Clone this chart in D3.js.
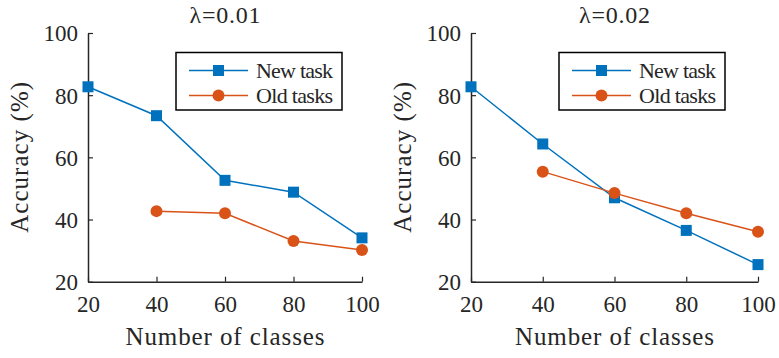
<!DOCTYPE html>
<html>
<head>
<script src="https://d3js.org/d3.v7.min.js"></script>
<style>
  body { margin: 0; background: #fff; }
</style>
</head>
<body>
<script>
var classes = [20, 40, 60, 80, 100];
var xTicks = [20, 40, 60, 80, 100];
var yTicks = [20, 40, 60, 80, 100];
var titles = ["\u03bb=0.01", "\u03bb=0.02"];
var seriesNames = ["New task", "Old tasks"];

// lambda = 0.01
var newTask1 = [82.7, 73.4, 52.6, 48.8, 34.1];
var oldTask1 = [null, 42.7, 42.0, 33.1, 30.2];
// lambda = 0.02
var newTask2 = [82.7, 64.3, 47.0, 36.5, 25.5];
var oldTask2 = [null, 55.4, 48.5, 42.0, 36.1];

var w = 779, h = 358;
var blue = "#0072BD", orange = "#D95319", axisCol = "#262626";
var serif = "'Liberation Serif', 'Times New Roman', serif";

var svg = d3.select("body").append("svg")
    .attr("width", w).attr("height", h);

var panels = [
  {x0: 88, x1: 362, data: [newTask1, oldTask1], title: titles[0]},
  {x0: 471, x1: 758, data: [newTask2, oldTask2], title: titles[1]}
];
var plotTop = 33, plotBottom = 281.7;

function pts(vals) {
  return vals.map(function(v, i) { return {c: classes[i], v: v}; })
    .filter(function(d) { return d.v != null; });
}

function label(sel) {
  return sel.style("font-family", serif).attr("fill", axisCol);
}

panels.forEach(function(p) {
  var x = d3.scaleLinear().domain([20, 100]).range([p.x0, p.x1]);
  var y = d3.scaleLinear().domain([20, 100]).range([plotBottom, plotTop]);
  var g = svg.append("g");

  // axes, ticks pointing inward
  var xa = g.append("g").attr("transform", "translate(0," + plotBottom + ")")
      .call(d3.axisBottom(x).tickValues(xTicks).tickSizeInner(-5).tickSizeOuter(0).tickPadding(14));
  var ya = g.append("g").attr("transform", "translate(" + p.x0 + ",0)")
      .call(d3.axisLeft(y).tickValues(yTicks).tickSizeInner(-5).tickSizeOuter(0).tickPadding(10));
  [xa, ya].forEach(function(a) {
    a.attr("font-family", null);
    a.select(".domain").attr("stroke", axisCol).attr("stroke-width", 1.5);
    a.selectAll(".tick line").attr("stroke", axisCol).attr("stroke-width", 1.2);
    label(a.selectAll(".tick text")).attr("font-size", 23);
  });
  xa.selectAll(".tick text").attr("dy", "0.71em");
  ya.selectAll(".tick text").attr("dy", "0.34em");

  // labels
  label(g.append("text")).attr("x", (p.x0 + p.x1) / 2).attr("y", 345)
    .attr("text-anchor", "middle").attr("font-size", 25)
    .attr("textLength", 199).attr("lengthAdjust", "spacing").text("Number of classes");
  label(g.append("text"))
    .attr("transform", "translate(" + (p.x0 - 60) + "," + ((plotTop + plotBottom) / 2) + ") rotate(-90)")
    .attr("text-anchor", "middle").attr("font-size", 25)
    .attr("textLength", 151).attr("lengthAdjust", "spacing").text("Accuracy (%)");
  label(g.append("text")).attr("x", (p.x0 + p.x1) / 2).attr("y", 23)
    .attr("text-anchor", "middle").attr("font-size", 24)
    .attr("textLength", 71).attr("lengthAdjust", "spacing").text(p.title);

  var line = d3.line()
    .x(function(d) { return x(d.c); })
    .y(function(d) { return y(d.v); });

  // new task
  var nt = pts(p.data[0]);
  g.append("path").datum(nt).attr("d", line)
    .attr("fill", "none").attr("stroke", blue).attr("stroke-width", 1.5);
  g.selectAll("rect.m").data(nt).enter().append("rect").attr("class", "m")
    .attr("x", function(d) { return x(d.c) - 5.5; })
    .attr("y", function(d) { return y(d.v) - 5.5; })
    .attr("width", 11).attr("height", 11).attr("fill", blue);

  // old tasks
  var ot = pts(p.data[1]);
  g.append("path").datum(ot).attr("d", line)
    .attr("fill", "none").attr("stroke", orange).attr("stroke-width", 1.5);
  g.selectAll("circle.m").data(ot).enter().append("circle").attr("class", "m")
    .attr("cx", function(d) { return x(d.c); })
    .attr("cy", function(d) { return y(d.v); })
    .attr("r", 6).attr("fill", orange);

  // legend
  var lx = p.x0 + 88, ly = 52.5, lw = 166, lh = 57.5;
  var lg = g.append("g");
  lg.append("rect").attr("x", lx).attr("y", ly).attr("width", lw).attr("height", lh)
    .attr("fill", "#fff").attr("stroke", "#000").attr("stroke-width", 1.5);
  var rows = [ly + 18, ly + 43];
  [blue, orange].forEach(function(c, k) {
    lg.append("line").attr("x1", lx + 13).attr("x2", lx + 72)
      .attr("y1", rows[k]).attr("y2", rows[k]).attr("stroke", c).attr("stroke-width", 1.5);
    if (k == 0) {
      lg.append("rect").attr("x", lx + 42.5 - 5.5).attr("y", rows[k] - 5.5)
        .attr("width", 11).attr("height", 11).attr("fill", c);
    } else {
      lg.append("circle").attr("cx", lx + 42.5).attr("cy", rows[k]).attr("r", 6).attr("fill", c);
    }
    label(lg.append("text")).attr("x", lx + 80).attr("y", rows[k]).attr("dy", "0.33em")
      .attr("font-size", 22).attr("textLength", 77).attr("lengthAdjust", "spacing")
      .text(seriesNames[k]);
  });
});
</script>
</body>
</html>
